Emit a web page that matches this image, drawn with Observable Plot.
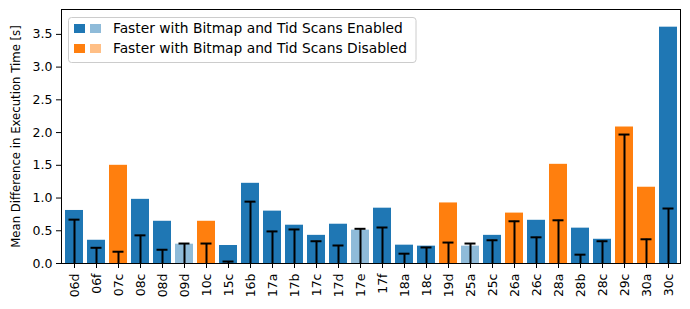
<!DOCTYPE html>
<html>
<head>
<meta charset="utf-8">
<script src="https://cdn.jsdelivr.net/npm/d3@7"></script>
<script src="https://cdn.jsdelivr.net/npm/@observablehq/plot@0.6"></script>
<style>
  html, body { margin: 0; padding: 0; background: white; }
</style>
</head>
<body>
<div id="chart"></div>
<script>
const queries = ["06d","06f","07c","08c","08d","09d","10c","15c","16b","17a","17b","17c","17d","17e","17f","18a","18c","19d","25a","25c","26a","26c","28a","28b","28c","29c","30a","30c"];
const means   = [0.81,0.355,1.50,0.98,0.645,0.295,0.645,0.275,1.225,0.80,0.585,0.43,0.60,0.51,0.845,0.28,0.265,0.925,0.265,0.43,0.77,0.66,1.515,0.54,0.37,2.085,1.165,3.61];
const errs    = [0.67,0.24,0.18,0.43,0.21,0.305,0.305,0.03,0.945,0.49,0.52,0.34,0.275,0.53,0.55,0.15,0.245,0.32,0.305,0.355,0.645,0.40,0.66,0.135,0.34,1.97,0.37,0.84];
const groups  = ["E","E","D","E","E","E","D","E","E","E","E","E","E","E","E","E","E","D","E","E","D","E","D","E","E","D","D","E"];
const significant = [1,1,1,1,1,0,1,1,1,1,1,1,1,0,1,1,1,1,0,1,1,1,1,1,1,1,1,1];
const yTicks = [0,0.5,1.0,1.5,2.0,2.5,3.0,3.5];
const legendLabels = ["Faster with Bitmap and Tid Scans Enabled","Faster with Bitmap and Tid Scans Disabled"];
const colorKeys = ["E1","E0","D1","D0"];
const colorRange = ["#1f77b4","#8fbbd9","#ff7f0e","#ffbf86"];
const yLabel = "Mean Difference in Execution Time [s]";

const data = queries.map((q, i) => ({q, mean: means[i], err: errs[i], key: groups[i] + significant[i]}));

const mL = 61, mT = 9;
const chart = Plot.plot({
  width: 690,
  height: 309,
  marginLeft: mL,
  marginRight: 10,
  marginTop: mT,
  marginBottom: 46,
  style: {fontFamily: "DejaVu Sans", fontSize: "12.5px", background: "white", color: "black"},
  x: {domain: queries, paddingInner: 0.2, paddingOuter: 0.1, align: 0.5},
  y: {domain: [0, 3.88]},
  color: {domain: colorKeys, range: colorRange},
  marks: [
    Plot.barY(data, {x: "q", y: "mean", fill: "key"}),
    Plot.ruleX(data, {x: "q", y1: 0, y2: "err", stroke: "black", strokeWidth: 2}),
    Plot.tickY(data, {x: "q", y: "err", stroke: "black", strokeWidth: 2, insetLeft: 3.5, insetRight: 3.5}),
    Plot.frame({stroke: "black", strokeWidth: 1}),
    Plot.axisX({tickRotate: -90, tickSize: 5, tickPadding: 5, label: null, fontSize: 12.5}),
    Plot.axisY({ticks: yTicks, tickFormat: ".1f", tickSize: 5, tickPadding: 4, label: null, fontSize: 12.5}),
    Plot.text([yLabel], {frameAnchor: "left", text: d => d, rotate: -90, dx: -45, fontSize: 11.7, textAnchor: "middle", lineAnchor: "middle"})
  ]
});

// legend (inside the frame, upper left)
const svg = d3.select(chart);
const lg = svg.append("g").attr("font-family", "DejaVu Sans").attr("font-size", "13.8px").attr("text-anchor", "start");
lg.append("rect")
  .attr("x", mL + 7.5).attr("y", mT + 8.5).attr("width", 347.5).attr("height", 45)
  .attr("rx", 3).attr("fill", "white").attr("fill-opacity", 0.8).attr("stroke", "#cccccc");
legendLabels.forEach((label, i) => {
  const yy = mT + 15 + i * 20;
  lg.append("rect").attr("x", mL + 13).attr("y", yy).attr("width", 11).attr("height", 9).attr("fill", colorRange[i * 2]);
  lg.append("rect").attr("x", mL + 29).attr("y", yy).attr("width", 11).attr("height", 9).attr("fill", colorRange[i * 2 + 1]);
  lg.append("text").attr("x", mL + 52).attr("y", yy + 4.5).attr("dy", "0.35em").attr("text-anchor", "start").attr("fill", "black").text(label);
});

document.getElementById("chart").appendChild(chart);
</script>
</body>
</html>
